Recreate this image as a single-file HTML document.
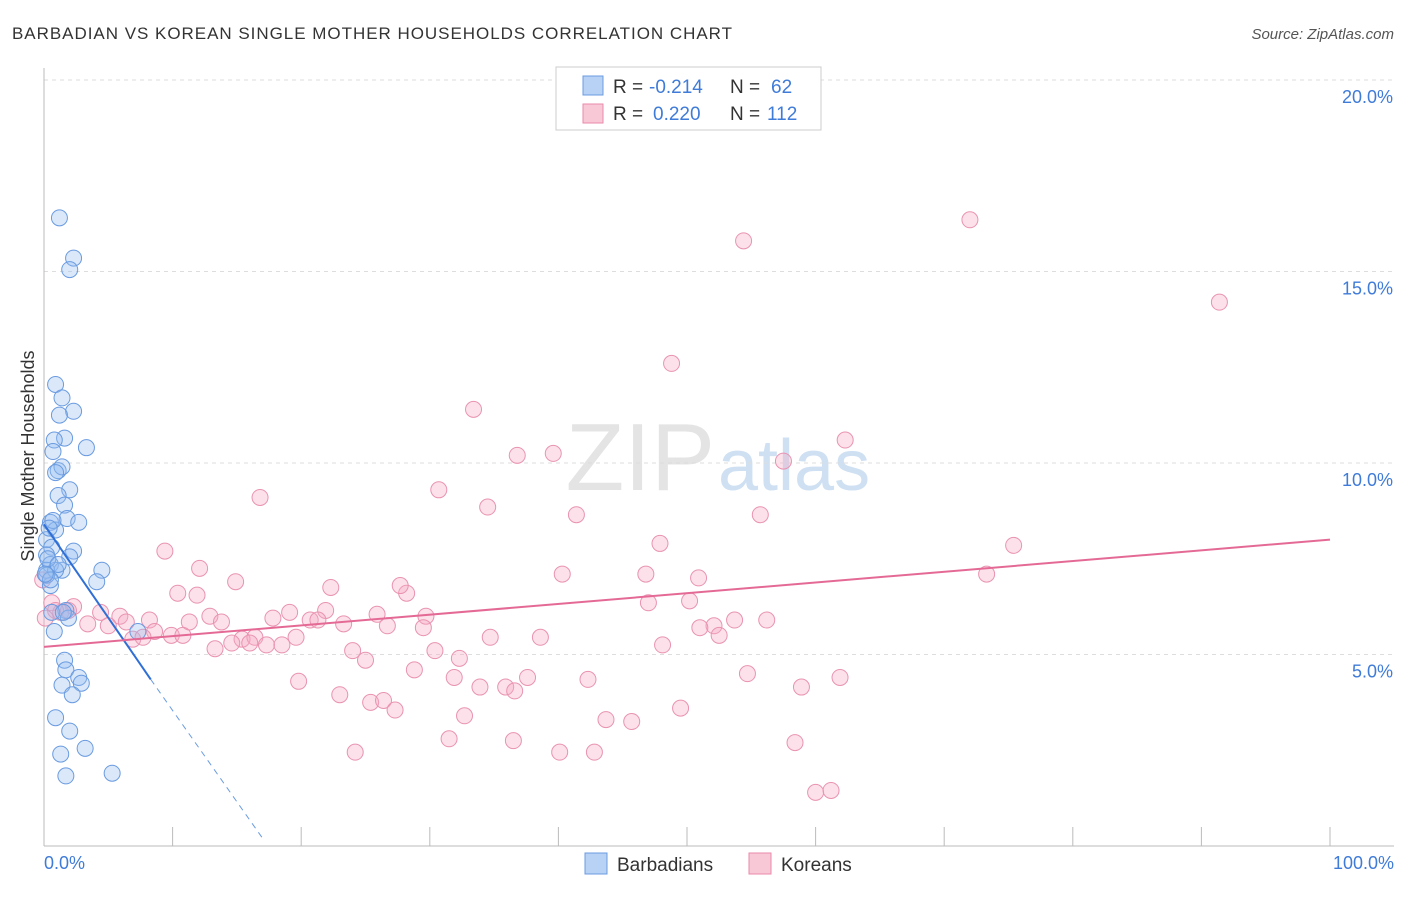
<!DOCTYPE html>
<html><head><meta charset="utf-8"><style>
body{margin:0;background:#fff;font-family:"Liberation Sans",sans-serif;}
svg text{font-family:"Liberation Sans",sans-serif;}
</style></head><body>
<svg width="1406" height="892">
<text x="12" y="39" font-size="17" fill="#333" textLength="720">BARBADIAN VS KOREAN SINGLE MOTHER HOUSEHOLDS CORRELATION CHART</text>
<text x="1394" y="39" font-size="15" fill="#555" text-anchor="end" font-style="italic">Source: ZipAtlas.com</text>
<text x="715" y="490" font-size="96" fill="#e4e4e4" text-anchor="end" font-family="Liberation Serif">ZIP</text>
<text x="718" y="490" font-size="72" fill="#cfe0f3">atlas</text>
<g id="grid"></g>
<line x1="44" y1="68" x2="44" y2="846" stroke="#bbb"/>
<line x1="44" y1="846" x2="1394" y2="846" stroke="#bbb"/>
<g id="xt"></g>
<text x="44" y="869" font-size="18" fill="#3f7bd8">0.0%</text>
<text x="1394" y="869" font-size="18" fill="#3f7bd8" text-anchor="end">100.0%</text>
<text x="34" y="456" font-size="18" fill="#333" text-anchor="middle" transform="rotate(-90 34 456)">Single Mother Households</text>
<g id="pts"></g>
<g id="lines"></g>
<g>
<rect x="556" y="67" width="265" height="63" fill="#fff" stroke="#ccc"/>
<rect x="583" y="76" width="20" height="19" fill="#b7d2f5" stroke="#6a9be0"/>
<rect x="583" y="104" width="20" height="19" fill="#f9c8d7" stroke="#e88aaa"/>
<text x="613" y="93" font-size="19" fill="#333">R =</text>
<text x="649" y="93" font-size="19" fill="#3f7bd8">-0.214</text>
<text x="730" y="93" font-size="19" fill="#333">N =</text>
<text x="771" y="93" font-size="19" fill="#3f7bd8">62</text>
<text x="613" y="120" font-size="19" fill="#333">R =</text>
<text x="653" y="120" font-size="19" fill="#3f7bd8">0.220</text>
<text x="730" y="120" font-size="19" fill="#333">N =</text>
<text x="767" y="120" font-size="19" fill="#3f7bd8">112</text>
</g>
<g>
<rect x="585" y="853" width="22" height="21" fill="#b7d2f5" stroke="#6a9be0"/>
<text x="617" y="871" font-size="19" fill="#333">Barbadians</text>
<rect x="749" y="853" width="22" height="21" fill="#f9c8d7" stroke="#e88aaa"/>
<text x="781" y="871" font-size="19" fill="#333">Koreans</text>
</g>
</svg>
<script>
const yTicks=[5,10,15,20];
const xTickVals=[0,10,20,30,40,50,60,70,80,90,100];
const blueX=[1.2,2.3,2.0,0.9,1.4,2.3,1.2,1.6,0.8,3.3,0.7,1.1,1.4,0.9,2.0,1.1,1.6,1.8,2.7,0.5,0.9,0.2,0.6,2.3,2.0,0.2,0.5,1.4,4.5,0.2,0.9,4.1,0.5,1.7,1.9,0.8,7.3,1.6,1.7,2.7,2.9,1.4,2.2,0.9,2.0,3.2,1.3,5.3,1.7,0.2,0.5,0.3,0.6,0.7,1.1,0.1,0.4,1.5];
const blueY=[16.4,15.35,15.05,12.05,11.7,11.35,11.25,10.65,10.6,10.4,10.3,9.8,9.9,9.75,9.3,9.15,8.9,8.55,8.45,8.45,8.25,8.0,7.8,7.7,7.55,7.6,7.35,7.2,7.2,7.2,7.2,6.9,6.8,6.15,5.95,5.6,5.6,4.85,4.6,4.4,4.25,4.2,3.95,3.35,3.0,2.55,2.4,1.9,1.83,7.07,6.95,7.5,6.1,8.5,7.35,7.1,8.3,6.1];
const pinkX=[72,54.4,91.4,48.8,33.4,62.3,36.8,39.6,57.5,16.8,30.7,34.5,41.4,55.7,75.4,47.9,9.4,12.1,40.3,46.8,50.9,73.3,14.9,22.3,28.2,10.4,11.9,27.7,47.0,50.2,0.6,2.3,1.3,1.9,4.4,5.9,12.9,19.1,21.9,25.9,29.7,56.2,17.8,20.7,21.3,8.2,6.4,3.4,5.0,8.6,11.3,13.8,19.6,23.3,26.7,29.5,53.7,52.1,51.0,52.5,34.7,38.6,6.9,7.7,9.9,10.8,15.4,16.4,16.0,17.3,18.5,13.3,14.6,24.0,30.4,48.1,25.0,32.3,28.8,31.9,37.6,42.3,19.8,33.9,35.9,36.6,54.7,58.9,61.9,23.0,25.4,26.4,27.3,32.7,49.5,43.7,45.7,31.5,36.5,24.2,40.1,42.8,58.4,60.0,61.2,0.9,-0.1,0.1];
const pinkY=[16.35,15.8,14.2,12.6,11.4,10.6,10.2,10.25,10.05,9.1,9.3,8.85,8.65,8.65,7.85,7.9,7.7,7.25,7.1,7.1,7.0,7.1,6.9,6.75,6.6,6.6,6.55,6.8,6.35,6.4,6.35,6.25,6.1,6.15,6.1,6.0,6.0,6.1,6.15,6.05,6.0,5.9,5.95,5.9,5.9,5.9,5.85,5.8,5.75,5.6,5.85,5.85,5.45,5.8,5.75,5.7,5.9,5.75,5.7,5.5,5.45,5.45,5.4,5.45,5.5,5.5,5.4,5.45,5.3,5.25,5.25,5.15,5.3,5.1,5.1,5.25,4.85,4.9,4.6,4.4,4.4,4.35,4.3,4.15,4.15,4.05,4.5,4.15,4.4,3.95,3.75,3.8,3.55,3.4,3.6,3.3,3.25,2.8,2.75,2.45,2.45,2.45,2.7,1.4,1.45,6.15,6.95,5.95];
const blueLine={x0:0,y0:8.4,x1:8.3,y1:4.35,xEnd:17,yEnd:0.2};
const pinkLine={x0:0,y0:5.2,x1:100,y1:8.0};
const NS="http://www.w3.org/2000/svg";
const sx=v=>44+v*12.86, sy=v=>846-v*38.3;
function mk(t,a,p){const e=document.createElementNS(NS,t);for(const k in a)e.setAttribute(k,a[k]);p.appendChild(e);return e;}
const grid=document.getElementById('grid');
yTicks.forEach(t=>{
 const l=mk('line',{x1:44,x2:1394,y1:sy(t),y2:sy(t),stroke:'#ddd','stroke-dasharray':'4,4'},grid);
 
 
 const tx=mk('text',{x:1393,y:sy(t)+23,'font-size':18,fill:'#3f7bd8','text-anchor':'end'},grid);
 tx.textContent=t.toFixed(1)+'%';
 
 
});
mk('line',{x1:44,x2:1394,y1:80,y2:80,stroke:'#ddd','stroke-dasharray':'4,4'},grid);
const xt=document.getElementById('xt');
xTickVals.forEach(t=>{
 const l=mk('line',{x1:sx(t),x2:sx(t),y1:827,y2:846,stroke:'#bbb'},xt);
 
 
});
const pts=document.getElementById('pts');
pinkX.forEach((x,i)=>{
 const c=mk('circle',{cx:sx(x),cy:sy(pinkY[i]),r:8,fill:'rgba(245,170,195,0.35)',stroke:'#e993b1','stroke-width':1},pts);
 
 
});
blueX.forEach((x,i)=>{
 const c=mk('circle',{cx:sx(x),cy:sy(blueY[i]),r:8,fill:'rgba(150,190,240,0.35)',stroke:'#6a9be0','stroke-width':1},pts);
 
 
});
const ln=document.getElementById('lines');
const b1=mk('line',{x1:sx(blueLine.x0),y1:sy(blueLine.y0),x2:sx(blueLine.x1),y2:sy(blueLine.y1),stroke:'#2f6fd6','stroke-width':2},ln);


const b2=mk('line',{x1:sx(blueLine.x1),y1:sy(blueLine.y1),x2:sx(blueLine.xEnd),y2:sy(blueLine.yEnd),stroke:'#6a9be0','stroke-width':1,'stroke-dasharray':'6,5'},ln);


const p1=mk('line',{x1:sx(pinkLine.x0),y1:sy(pinkLine.y0),x2:sx(pinkLine.x1),y2:sy(pinkLine.y1),stroke:'#e46a95','stroke-width':2},ln);


</script>
</body></html>
